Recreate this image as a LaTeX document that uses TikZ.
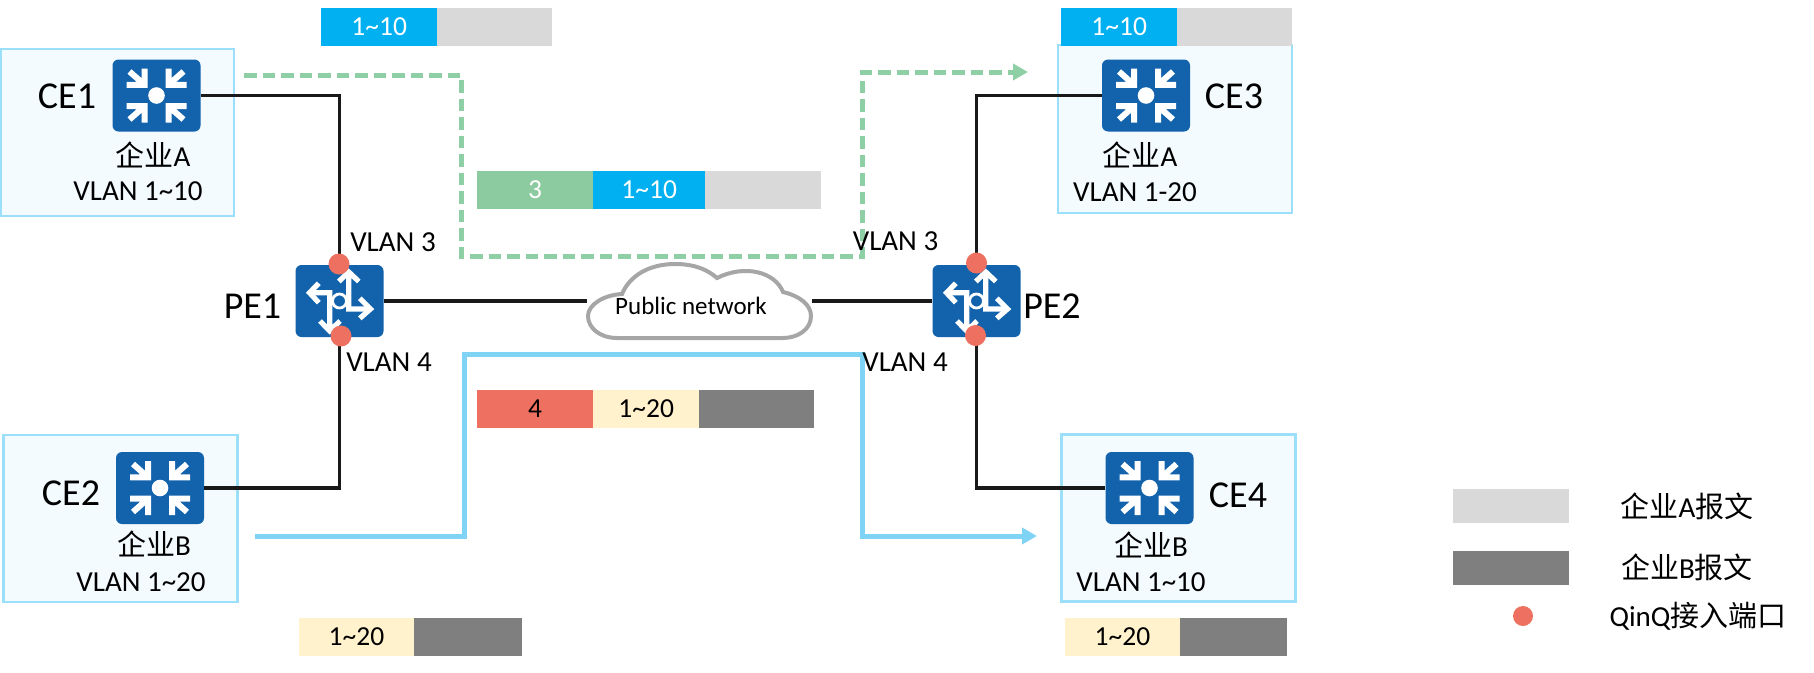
\documentclass[tikz,border=0pt]{standalone}
\usepackage{fontspec}
\setmainfont{Carlito}
\newfontfamily\cjk{Noto Sans CJK SC}
\usetikzlibrary{arrows.meta}

\definecolor{routerblue}{HTML}{1262AC}
\definecolor{boxfill}{HTML}{F3FBFF}
\definecolor{boxline}{HTML}{9BDFFA}
\definecolor{tagcyan}{HTML}{00B0F0}
\definecolor{taggreen}{HTML}{8CCBA0}
\definecolor{tagred}{HTML}{EE7060}
\definecolor{tagyellow}{HTML}{FFF2CC}
\definecolor{msglight}{HTML}{D9D9D9}
\definecolor{msgdark}{HTML}{7F7F7F}
\definecolor{flowgreen}{HTML}{8FCFA5}
\definecolor{flowblue}{HTML}{7FD4F5}
\definecolor{cloudline}{HTML}{A6A6A6}

\tikzset{
  site/.style = {draw=boxline, fill=boxfill, line width=2.8pt, inner sep=0pt},
  router/.style = {fill=routerblue, rounded corners=6pt, minimum width=88pt, minimum height=72pt, inner sep=0pt},
  port/.style = {circle, fill=tagred, minimum size=21pt, inner sep=0pt},
  bar/.style = {anchor=west, minimum height=38pt, inner sep=0pt, font=\fontsize{27.5}{29}\selectfont},
  lbl/.style = {inner sep=0pt, font=\fontsize{29}{31}\selectfont},
  big/.style = {inner sep=0pt, font=\fontsize{38}{40}\selectfont},
  link/.style = {line width=3.6pt, black!90},
  icon/.style = {draw=white, line width=5.2pt},
  ceicon/.pic = {
    \fill[white] (0,0) circle (8.3);
    \foreach \sx/\sy in {1/1, -1/1, 1/-1, -1/-1} {
      \draw[icon, line width=6pt, xscale=\sx, yscale=\sy] (-30,-10.7) -- (-12,-10.7) -- (-12,-27) (-12,-10.7) -- (-27,-24);
    }
  },
  peicon/.pic = {
    \draw[icon, line width=2.8pt] (0,0) circle (7);
    \draw[icon] (31,8) -- (9.3,8) -- (9.3,-29) (-0.7,-19.5) -- (9.3,-29) -- (19.3,-19.5);
    \draw[icon] (20.3,-2.7) -- (31,8) -- (20.3,17.3);
    \draw[icon] (-30,-8.3) -- (-9.7,-8.3) -- (-9.7,30) (-19.5,20) -- (-9.7,30) -- (0.5,20);
    \draw[icon] (-20.7,-17.7) -- (-30,-8.3) -- (-20.7,1.7);
  }
}

\begin{document}
\begin{tikzpicture}[x=1pt, y=-1pt]
  \useasboundingbox (0,0) rectangle (1814,672);

  % customer sites
  \node[site, minimum width=233pt, minimum height=167pt] (site1) at (117.5,132.5) {};
  \node[site, minimum width=234pt, minimum height=167pt] (site2) at (120.5,518.5) {};
  \node[site, minimum width=234pt, minimum height=168pt] (site3) at (1175,129) {};
  \node[site, minimum width=234pt, minimum height=167pt] (site4) at (1178.5,518) {};

  % routers
  \node[router] (ce1) at (156.5,95.5) {};
  \node[router] (ce2) at (160,488) {};
  \node[router] (ce3) at (1146,95.5) {};
  \node[router] (ce4) at (1149.5,488) {};
  \node[router] (pe1) at (339.5,301) {};
  \node[router] (pe2) at (976.5,301) {};
  \foreach \r in {ce1, ce2, ce3, ce4} { \pic at (\r) {ceicon}; }
  \foreach \r in {pe1, pe2} { \pic at (\r) {peicon}; }

  % cloud
  \node[minimum width=225pt, minimum height=76pt, inner sep=0pt] (cloud) at (699.5,301) {};

  % links
  \draw[link] (ce1.east) -| (pe1.north);
  \draw[link] (ce2.east) -| (pe1.south);
  \draw[link] (ce3.west) -| (pe2.north);
  \draw[link] (ce4.west) -| (pe2.south);
  \draw[link] (pe1.east) -- (cloud.west);
  \draw[link] (cloud.east) -- (pe2.west);
  \draw[draw=cloudline, fill=white, line width=4pt]
    (588,316) .. controls (588,305) and (603,295) .. (622,294)
    .. controls (630,275) and (650,264) .. (675,264)
    .. controls (695,264) and (708,270) .. (717,278)
    .. controls (745,264) and (775,272) .. (783,292)
    .. controls (800,296) and (811,305) .. (811,316)
    .. controls (811,330) and (797,338) .. (783,338)
    -- (617,338)
    .. controls (600,338) and (588,328) .. (588,316) -- cycle;
  \node[inner sep=0pt, font=\fontsize{25}{27}\selectfont] (cloudtext) at (691,306) {Public network};

  % QinQ ports
  \node[port] (p1) at (339,264) {};
  \node[port] (p2) at (341,336) {};
  \node[port] (p3) at (976.5,263) {};
  \node[port] (p4) at (975.5,335.5) {};

  % traffic flows
  \coordinate (gstart) at (244,75);
  \coordinate (gdown) at (461,256);
  \coordinate (gup) at (862,72);
  \coordinate (gtip) at (1012,72);
  \coordinate (gend) at (1028,72);
  \coordinate (bstart) at (255,536);
  \coordinate (bup) at (464,354);
  \coordinate (bdown) at (862,536);
  \coordinate (bend) at (1037,536);
  \draw[flowgreen, line width=5pt, dash pattern=on 12.5pt off 6pt]
    (gstart) -| (gdown) -| (gup) -- (gtip);
  \draw[flowgreen, line width=5pt, -{Triangle[length=15pt, width=16pt]}] (gtip) -- (gend);
  \draw[flowblue, line width=5pt, -{Triangle[length=15pt, width=16pt]}]
    (bstart) -| (bup) -| (bdown) -- (bend);

  % messages
  \node[bar, fill=tagcyan, text=white, minimum width=116pt] (a1) at (321,27) {1\textasciitilde10};
  \node[bar, fill=msglight, minimum width=115pt] (a2) at (437,27) {};
  \node[bar, fill=tagcyan, text=white, minimum width=116pt] (c1) at (1061,27) {1\textasciitilde10};
  \node[bar, fill=msglight, minimum width=115pt] (c2) at (1177,27) {};
  \node[bar, fill=taggreen, text=white, minimum width=116pt] (m1) at (477,190) {3};
  \node[bar, fill=tagcyan, text=white, minimum width=112pt] (m2) at (593,190) {1\textasciitilde10};
  \node[bar, fill=msglight, minimum width=116pt] (m3) at (705,190) {};
  \node[bar, fill=tagred, minimum width=116pt] (n1) at (477,408.5) {4};
  \node[bar, fill=tagyellow, minimum width=106pt] (n2) at (593,408.5) {1\textasciitilde20};
  \node[bar, fill=msgdark, minimum width=115pt] (n3) at (699,408.5) {};
  \node[bar, fill=tagyellow, minimum width=115.5pt] (b1) at (298.5,636.5) {1\textasciitilde20};
  \node[bar, fill=msgdark, minimum width=108pt] (b2) at (414,636.5) {};
  \node[bar, fill=tagyellow, minimum width=115.5pt] (d1) at (1064.5,636.5) {1\textasciitilde20};
  \node[bar, fill=msgdark, minimum width=106.5pt] (d2) at (1180,636.5) {};

  % labels
  \node[big] (ce1txt) at (67,96) {CE1};
  \node[big] (ce2txt) at (71,493) {CE2};
  \node[big] (ce3txt) at (1234,96) {CE3};
  \node[big] (ce4txt) at (1238,495) {CE4};
  \node[big] (pe1txt) at (252.5,306) {PE1};
  \node[big] (pe2txt) at (1052,306) {PE2};
  \node[lbl] (t1) at (153,155) {{\cjk 企业}A};
  \node[lbl] (v1) at (138,191) {VLAN 1\textasciitilde10};
  \node[lbl] (t2) at (154,544) {{\cjk 企业}B};
  \node[lbl] (v2) at (141,582) {VLAN 1\textasciitilde20};
  \node[lbl] (t3) at (1140,155) {{\cjk 企业}A};
  \node[lbl] (v3) at (1135,192) {VLAN 1-20};
  \node[lbl] (t4) at (1151,545) {{\cjk 企业}B};
  \node[lbl] (v4) at (1141,582) {VLAN 1\textasciitilde10};
  \node[lbl] (vl1) at (393,242) {VLAN 3};
  \node[lbl] (vl2) at (389,362) {VLAN 4};
  \node[lbl] (vl3) at (895.5,241) {VLAN 3};
  \node[lbl] (vl4) at (905,362) {VLAN 4};

  % legend
  \node[bar, fill=msglight, minimum width=116pt, minimum height=34pt] (leg1) at (1453,506) {};
  \node[bar, fill=msgdark, minimum width=116pt, minimum height=34pt] (leg2) at (1453,568) {};
  \node[port, minimum size=20pt] (leg3) at (1523,616) {};
  \node[lbl] (legt1) at (1687,506) {{\cjk 企业}A{\cjk 报文}};
  \node[lbl] (legt2) at (1687,567) {{\cjk 企业}B{\cjk 报文}};
  \node[lbl] (legt3) at (1698,616) {QinQ{\cjk 接入端口}};
\end{tikzpicture}
\end{document}
